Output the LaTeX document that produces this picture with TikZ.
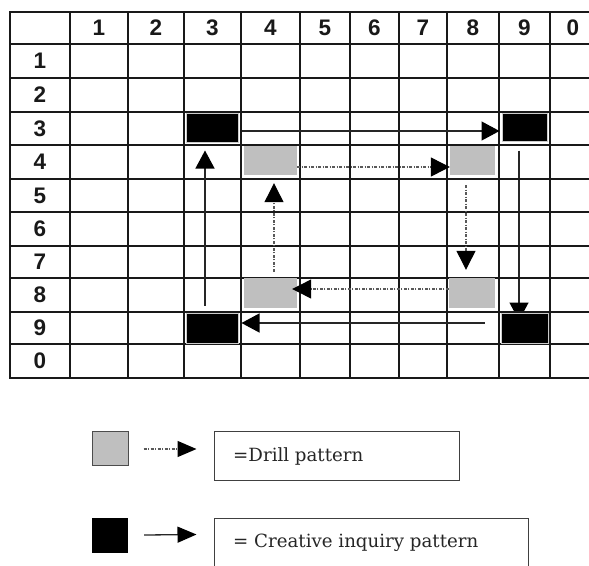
\documentclass[tikz,border=0pt]{standalone}
\usepackage{fontspec}
\setmainfont{DejaVu Serif}
\newfontfamily\hdrfont{Liberation Sans}
\usetikzlibrary{arrows.meta,calc}
\pgfdeclarelayer{bg}
\pgfsetlayers{bg,main}
\tikzset{
  gridline/.style={line width=1.8pt, draw=black!90},
  outerline/.style={line width=2.6pt, draw=black!90},
  hdr/.style={font=\hdrfont\bfseries\fontsize{22.5}{26}\selectfont, inner sep=0pt, text=black!90},
  blackbox/.style={fill=black, draw=black!20, line width=1pt, inner sep=0pt},
  graybox/.style={fill=black!25, inner sep=0pt},
  solidarr/.style={line width=1.3pt, draw=black!85, -{Triangle[length=18pt,width=19pt,color=black]}},
  dotarr/.style={line width=1.2pt, draw=black!65, dash pattern=on 3pt off 1.5pt on 1pt off 1.5pt, -{Triangle[length=19pt,width=19pt,color=black]}},
  legsq/.style={inner sep=0pt, minimum width=36pt, minimum height=34pt},
  legbox/.style={draw=black!75, line width=1pt, inner sep=0pt},
  legtext/.style={font=\fontsize{18.2}{22}\selectfont, inner sep=0pt, anchor=base west, text=black!85}
}
\begin{document}
\begin{tikzpicture}[x=1pt,y=-1pt]
\useasboundingbox (0,0) rectangle (589,565);
\begin{pgfonlayer}{bg}
\fill[white] (0,0) rectangle (589,565);
\end{pgfonlayer}
\begin{scope}
\clip (0,0) rectangle (589,565);
% grid
\foreach \x in {70,128,184,241,300,350,399,447,499,550}
  \draw[gridline] (\x,12) -- (\x,378);
\foreach \y in {44,78,112,145,179,212,246,278,312,344}
  \draw[gridline] (10,\y) -- (600,\y);
\draw[outerline] (10,12) rectangle (596,378);
% headers
\node[hdr] (h1) at (99,28) {1};
\node[hdr] (h2) at (156,28) {2};
\node[hdr] (h3) at (212.5,28) {3};
\node[hdr] (h4) at (270.5,28) {4};
\node[hdr] (h5) at (325,28) {5};
\node[hdr] (h6) at (374.5,28) {6};
\node[hdr] (h7) at (423,28) {7};
\node[hdr] (h8) at (473,28) {8};
\node[hdr] (h9) at (524.5,28) {9};
\node[hdr] (h0) at (573,28) {0};
\node[hdr] (r1) at (40,61) {1};
\node[hdr] (r2) at (40,95) {2};
\node[hdr] (r3) at (40,128.5) {3};
\node[hdr] (r4) at (40,162) {4};
\node[hdr] (r5) at (40,195.5) {5};
\node[hdr] (r6) at (40,229) {6};
\node[hdr] (r7) at (40,262) {7};
\node[hdr] (r8) at (40,295) {8};
\node[hdr] (r9) at (40,328) {9};
\node[hdr] (r0) at (40,361) {0};
% pattern boxes
\node[blackbox, minimum width=52pt, minimum height=29pt] (B1) at (212,127.5) {};
\node[blackbox, minimum width=45pt, minimum height=28pt] (B2) at (524.5,127) {};
\node[blackbox, minimum width=52pt, minimum height=30pt] (B3) at (212,328) {};
\node[blackbox, minimum width=47pt, minimum height=30pt] (B4) at (524.5,328) {};
\node[graybox, minimum width=53pt, minimum height=29pt] (G1) at (270.5,160.5) {};
\node[graybox, minimum width=45pt, minimum height=29pt] (G2) at (472.5,160.5) {};
\node[graybox, minimum width=53pt, minimum height=30pt] (G3) at (270.5,293) {};
\node[graybox, minimum width=46pt, minimum height=30pt] (G4) at (472,293) {};
% creative inquiry arrows
\draw[solidarr] ($(B1.east)+(3,3.5)$) -- ($(B2.west)+(-2,4)$);
\begin{pgfonlayer}{bg}
\draw[solidarr] ($(B2.south)+(-5.5,9)$) -- ($(B4.north)+(-5.5,8)$);
\end{pgfonlayer}
\draw[solidarr] ($(B4.west)+(-16,-5)$) -- ($(B3.east)+(3,-5)$);
\draw[solidarr] ($(B3.north)+(-7,-7)$) -- ($(B1.south)+(-7,8)$);
% drill arrows
\draw[dotarr] ($(G1.east)+(0,6.5)$) -- ($(G2.west)+(0,6.5)$);
\draw[dotarr] ($(G2.south)+(-6.5,10)$) -- ($(G4.north)+(-6,-8)$);
\draw[dotarr] ($(G4.west)+(0,-4)$) -- ($(G3.east)+(-5,-4)$);
\draw[dotarr] ($(G3.north)+(3.5,-6)$) -- ($(G1.south)+(3.5,8)$);
% legend
\node[legsq, fill=black!25, draw=black!70, line width=1pt] (LG) at (110,448) {};
\node[legsq, fill=black, minimum height=35pt] (LB) at (110,535.5) {};
\node[legbox, minimum width=245pt, minimum height=49pt] (L1) at (336.5,455.5) {};
\node[legbox, minimum width=314pt, minimum height=82pt] (L2) at (371,559) {};
\node[legtext] (T1) at (233,461) {=Drill pattern};
\node[legtext] (T2) at (233,547) {= Creative inquiry pattern};
\draw[dotarr, -{Triangle[length=19pt,width=16pt,color=black]}] ($(LG.east)+(15,1)$) -- ($(L1.west)+(-17,-6.5)$);
\draw[solidarr, -{Triangle[length=19pt,width=16pt,color=black]}] ($(LB.east)+(16,-0.5)$) -- ($(L2.north west)+(-17,17)$);
\end{scope}
\end{tikzpicture}
\end{document}
